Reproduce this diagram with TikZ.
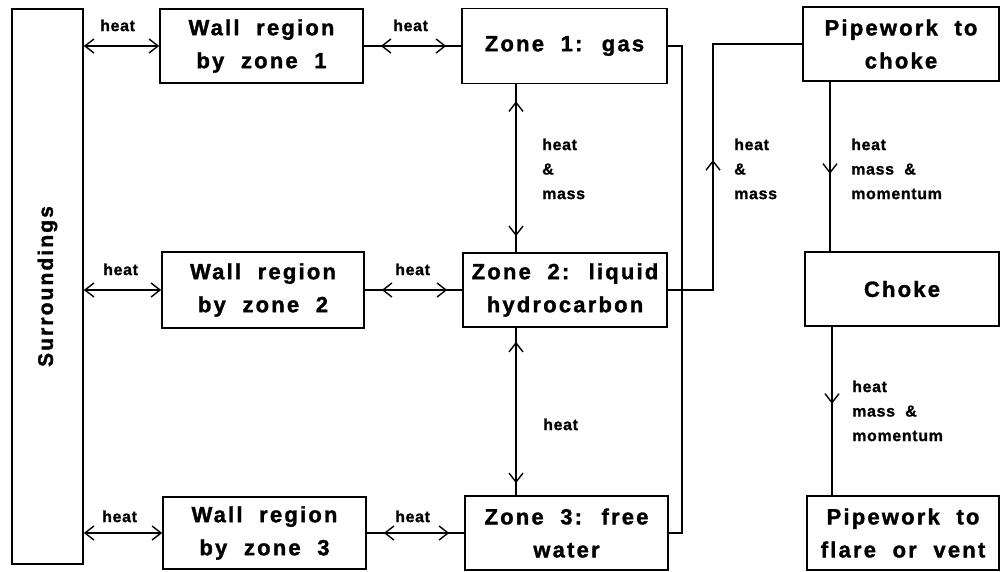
\documentclass[tikz,border=0pt]{standalone}
\usepackage{fontspec}
\newfontfamily\boxfont{Liberation Sans}[LetterSpace=10,WordSpace=2,FakeBold=1.5]
\newfontfamily\lblfont{Liberation Sans}[LetterSpace=4,WordSpace=2,FakeBold=1]
\usetikzlibrary{arrows.meta,calc}
\tikzset{
  blk/.style={draw, line width=1.6pt, inner sep=0pt, align=center,
    font=\boxfont\bfseries\fontsize{22}{33}\selectfont},
  lbl/.style={inner sep=0pt, align=left, anchor=north west,
    font=\lblfont\bfseries\fontsize{16}{24.5}\selectfont},
  surtext/.style={rotate=90, inner sep=0pt,
    font=\boxfont\bfseries\fontsize{21}{25}\selectfont},
  wire/.style={line width=1.6pt},
  barb/.tip={Straight Barb[length=9pt,width=14pt,line width=1.4pt]},
  tip/.style={-barb},
  dbl/.style={barb-barb}
}
\begin{document}
\begin{tikzpicture}[x=1pt,y=-1pt]
\useasboundingbox (0,0) rectangle (1000,571);

% blocks
\node[blk, minimum width=71, minimum height=555,
      label={[surtext]center:Surroundings}] (sur) at (47.5,286.5) {};
\node[blk, minimum width=203, minimum height=74] (w1) at (261.5,46) {Wall region\\by zone 1};
\node[blk, minimum width=202, minimum height=76] (w2) at (263,290) {Wall region\\by zone 2};
\node[blk, minimum width=203, minimum height=72] (w3) at (264.5,533) {Wall region\\by zone 3};
\node[blk, minimum width=205, minimum height=75] (z1) at (564.5,46) {Zone 1: gas};
\node[blk, minimum width=204, minimum height=74] (z2) at (565,290) {Zone 2: liquid\\hydrocarbon};
\node[blk, minimum width=203, minimum height=74] (z3) at (566.5,533) {Zone 3: free\\water};
\node[blk, minimum width=196, minimum height=74] (p1) at (901,44) {Pipework to\\choke};
\node[blk, minimum width=194, minimum height=74] (ch) at (902,289) {Choke};
\node[blk, minimum width=192, minimum height=74] (p2) at (903,533) {Pipework to\\flare or vent};

% surroundings <-> wall regions
\draw[wire,dbl] (sur.east |- w1.west) -- (w1.west);
\draw[wire,dbl] (sur.east |- w2.west) -- (w2.west);
\draw[wire,dbl] (sur.east |- w3.west) -- (w3.west);

% wall regions <-> zones
\draw[wire] (w1.east) -- (z1.west);
\draw[wire,dbl] ($(w1.east)+(17,0)$) -- ($(z1.west)+(-15,0)$);
\draw[wire] (w2.east) -- (z2.west);
\draw[wire,dbl] ($(w2.east)+(17,0)$) -- ($(z2.west)+(-15,0)$);
\draw[wire] (w3.east) -- (z3.west);
\draw[wire,dbl] ($(w3.east)+(17,0)$) -- ($(z3.west)+(-15,0)$);

% zone <-> zone
\coordinate (va) at (516,0);
\draw[wire] (z1.south -| va) -- (z2.north -| va);
\draw[wire,dbl] ($(z1.south -| va)+(0,17)$) -- ($(z2.north -| va)+(0,-16)$);
\draw[wire] (z2.south -| va) -- (z3.north -| va);
\draw[wire,dbl] ($(z2.south -| va)+(0,14)$) -- ($(z3.north -| va)+(0,-12)$);

% outflow from the zones to the pipework
\coordinate (cx) at (682,0);
\coordinate (cy) at (713,0);
\draw[wire] (z1.east) -- (z1.east -| cx) -- (cx |- z3.east) -- (z3.east);
\draw[wire] (z2.east) -- (z2.east -| cy) -- (cy |- p1.west) -- (p1.west);
\draw[wire,tip] ($(cy |- p1.west)+(0,132)$) -- ($(cy |- p1.west)+(0,116)$);

% pipework -> choke -> flare
\coordinate (dx) at (830,0);
\coordinate (ex) at (832,0);
\draw[wire] (p1.south -| dx) -- (ch.north -| dx);
\draw[wire,tip] ($(p1.south -| dx)+(0,76)$) -- ($(p1.south -| dx)+(0,92)$);
\draw[wire] (ch.south -| ex) -- (p2.north -| ex);
\draw[wire,tip] ($(ch.south -| ex)+(0,61)$) -- ($(ch.south -| ex)+(0,77)$);

% labels
\node[lbl] (l1) at (100,19.3) {heat};
\node[lbl] (l2) at (393,19.3) {heat};
\node[lbl] (l3) at (103,263.3) {heat};
\node[lbl] (l4) at (395,263.3) {heat};
\node[lbl] (l5) at (102,510.3) {heat};
\node[lbl] (l6) at (395,510.3) {heat};
\node[lbl] (l7) at (542,138.3) {heat\\\&\\mass};
\node[lbl] (l8) at (734,138.3) {heat\\\&\\mass};
\node[lbl] (l9) at (851,138.3) {heat\\mass \&\\momentum};
\node[lbl] (l10) at (852,380.3) {heat\\mass \&\\momentum};
\node[lbl] (l11) at (543,418.3) {heat};
\end{tikzpicture}
\end{document}
